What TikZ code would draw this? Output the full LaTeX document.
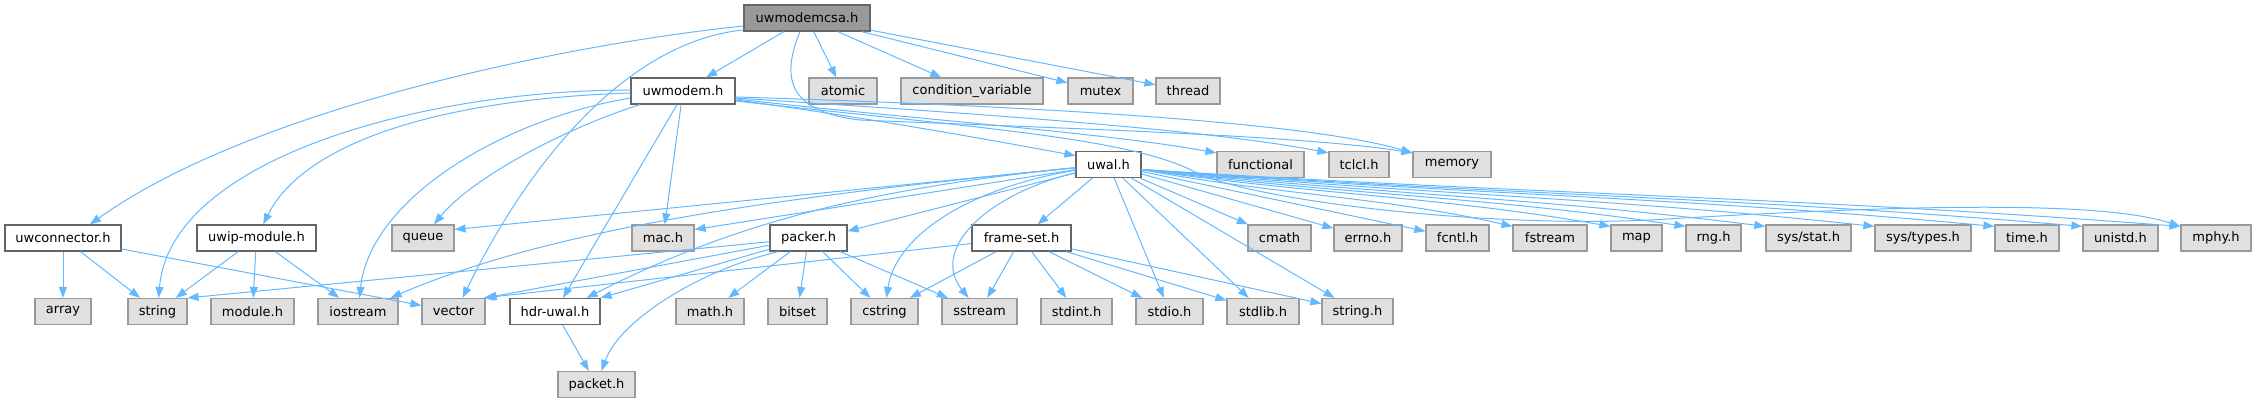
\documentclass[tikz,border=0pt]{standalone}
\usepackage{fontspec}
\usepackage{xcolor}
\usetikzlibrary{arrows.meta}
\newfontfamily\graphfont{DejaVu Sans}
\definecolor{edgeblue}{HTML}{63B8FF}
\definecolor{rootfill}{HTML}{999999}
\definecolor{sysfill}{HTML}{E0E0E0}
\definecolor{sysline}{HTML}{999999}
\definecolor{docline}{HTML}{666666}

\begin{document}
\begin{tikzpicture}[x=1pt, y=-1pt,
    box/.style={rectangle, inner sep=0pt, minimum height=26pt, line width=1.2pt,
                font=\graphfont\fontsize{13}{15}\selectfont},
    rootbox/.style={box, draw=docline, fill=rootfill},
    docbox/.style={box, draw=docline, fill=white},
    sysbox/.style={box, draw=sysline, fill=sysfill},
    incl/.style={draw=edgeblue, line width=1pt, -{Triangle[length=11pt, width=8pt]}},
  ]
  \useasboundingbox (0,0) rectangle (2257,403);

  % rows 0-2
  \node[rootbox, minimum width=126pt] (csa) at (807,18) {uwmodemcsa.h};
  \node[docbox, minimum width=104pt] (uwmodem) at (683,91) {uwmodem.h};
  \foreach \n/\x/\w/\t in {atomic/843/68/atomic, condvar/972/142/{condition\_variable},
                           mutex/1100.5/65/mutex, thread/1188/64/thread} {
    \node[sysbox, minimum width=\w pt] (\n) at (\x,91) {\t};
  }
  \node[docbox, minimum width=65pt] (uwal) at (1108.5,164.5) {uwal.h};
  \foreach \n/\x/\w/\t in {functional/1260.5/87/functional, tclcl/1359/60/tclcl.h,
                           memory/1452/78/memory} {
    \node[sysbox, minimum width=\w pt] (\n) at (\x,164.5) {\t};
  }

  % row 3
  \foreach \n/\x/\w/\t in {uwconnector/63/116/uwconnector.h, uwip/256.5/119/uwip-module.h,
                           packer/808.5/77/packer.h, frameset/1021.5/99/frame-set.h} {
    \node[docbox, minimum width=\w pt] (\n) at (\x,238) {\t};
  }
  \foreach \n/\x/\w/\t in {queue/423/62/queue, mac/663/62/mac.h, cmath/1279.5/63/cmath,
                           errno/1368/68/errno.h, fcntl/1457.5/63/fcntl.h, fstream/1550/74/fstream,
                           map/1636.5/51/map, rng/1713.5/55/rng.h, sysstat/1808.5/85/{sys/stat.h},
                           systypes/1923/96/{sys/types.h}, timeh/2027/64/time.h,
                           unistd/2120.5/75/unistd.h, mphy/2216/70/mphy.h} {
    \node[sysbox, minimum width=\w pt] (\n) at (\x,238) {\t};
  }

  % rows 4-5
  \node[docbox, minimum width=90pt] (hdruwal) at (555,311.5) {hdr-uwal.h};
  \foreach \n/\x/\w/\t in {array/63/56/array, string/157.5/59/string, module/252.5/83/module.h,
                           iostream/358/80/iostream, vector/453.5/63/vector, math/710/68/math.h,
                           bitset/797.5/59/bitset, cstring/884.5/67/cstring, sstream/979.5/75/sstream,
                           stdint/1076.5/71/stdint.h, stdio/1169.5/67/stdio.h, stdlib/1263/72/stdlib.h,
                           stringh/1357.5/71/string.h} {
    \node[sysbox, minimum width=\w pt] (\n) at (\x,311.5) {\t};
  }
  \node[sysbox, minimum width=77pt] (packet) at (596.5,384.5) {packet.h};

  % uwmodemcsa.h
  \draw[incl] ([yshift=-8pt]csa.west) .. controls (560,45) and (250,110) .. ([xshift=27pt]uwconnector.north);
  \draw[incl] ([yshift=-12pt]csa.west) .. controls (640,40) and (540,140) .. ([xshift=9pt]vector.north);
  \foreach \t in {uwmodem, atomic, condvar, mutex, thread} {
    \draw[incl] (csa) -- (\t);
  }
  \draw[incl] ([xshift=-7pt]csa.south) .. controls (780,80) and (790,112) .. (860,120)
    .. controls (1050,128) and (1300,135) .. ([yshift=-2pt]memory.north west);

  % uwmodem.h
  \draw[incl] ([yshift=1pt]uwmodem.west) .. controls (420,90) and (170,160) .. (string);
  \draw[incl] ([yshift=-2pt]uwmodem.west) .. controls (420,100) and (300,150) .. (uwip);
  \draw[incl] ([yshift=-7pt]uwmodem.west) .. controls (500,120) and (370,200) .. (iostream);
  \draw[incl] ([xshift=-43pt]uwmodem.south) .. controls (560,130) and (470,180) .. (queue);
  \draw[incl] (uwmodem) -- (mac);
  \draw[incl] ([xshift=-6pt]uwmodem.south) -- (hdruwal);
  \draw[incl] ([yshift=-9pt]uwmodem.east) .. controls (850,115) and (980,138) .. (uwal.165);
  \draw[incl] ([yshift=-8pt]uwmodem.east) .. controls (900,118) and (1100,132) .. ([yshift=-2pt]functional.north west);
  \draw[incl] ([yshift=-7pt]uwmodem.east) .. controls (950,112) and (1200,128) .. ([yshift=-2pt]tclcl.north west);
  \draw[incl] ([yshift=-6pt]uwmodem.east) .. controls (1000,105) and (1300,120) .. ([yshift=-2pt]memory.north west);
  \draw[incl] ([yshift=-10pt]uwmodem.east) .. controls (980,128) and (1130,138) .. (1195,172)
    .. controls (1250,200) and (1480,228) .. (1650,220)
    .. controls (1900,205) and (2100,200) .. ([yshift=-2pt]mphy.north west);

  % uwconnector.h, uwip-module.h
  \foreach \t in {array, string, vector} {
    \draw[incl] (uwconnector) -- (\t);
  }
  \foreach \t in {string, module, iostream} {
    \draw[incl] (uwip) -- (\t);
  }

  % uwal.h
  \draw[incl] (uwal) -- (queue.15);
  \draw[incl] (uwal) -- (mac.15);
  \draw[incl] (uwal) -- (packer.10);
  \draw[incl] (uwal) .. controls (800,195) and (560,225) .. ([xshift=-8pt]iostream.north east);
  \draw[incl] (uwal) .. controls (850,190) and (720,230) .. ([xshift=-14pt]hdruwal.north east);
  \draw[incl] (uwal) .. controls (960,190) and (895,240) .. (cstring);
  \draw[incl] (uwal) .. controls (985,195) and (930,250) .. (sstream);
  \foreach \t in {frameset, stdio, stdlib, stringh, cmath, errno, fcntl} {
    \draw[incl] (uwal) -- (\t);
  }
  \foreach \t/\a in {fstream/130, map/170, rng/200, sysstat/240, systypes/280,
                     timeh/320, unistd/350, mphy/390} {
    \draw[incl] ([yshift=-5pt]uwal.east) .. controls +(\a,25) and +(-\a,-30) .. ([yshift=-2pt]\t.north west);
  }

  % packer.h
  \draw[incl] (packer) -- (string.north east);
  \draw[incl] (packer) -- (vector.north east);
  \draw[incl] (packer) -- (hdruwal.north east);
  \draw[incl] ([xshift=-30pt]packer.south) .. controls (700,270) and (620,320) .. (packet);
  \foreach \t in {math, bitset, cstring, sstream} {
    \draw[incl] (packer) -- (\t);
  }

  % frame-set.h
  \draw[incl] (frameset) -- ([xshift=-2pt]vector.north east);
  \foreach \t in {cstring, sstream, stdint, stdio, stdlib, stringh} {
    \draw[incl] (frameset) -- (\t);
  }

  % hdr-uwal.h
  \draw[incl] (hdruwal) -- (packet);
\end{tikzpicture}
\end{document}
